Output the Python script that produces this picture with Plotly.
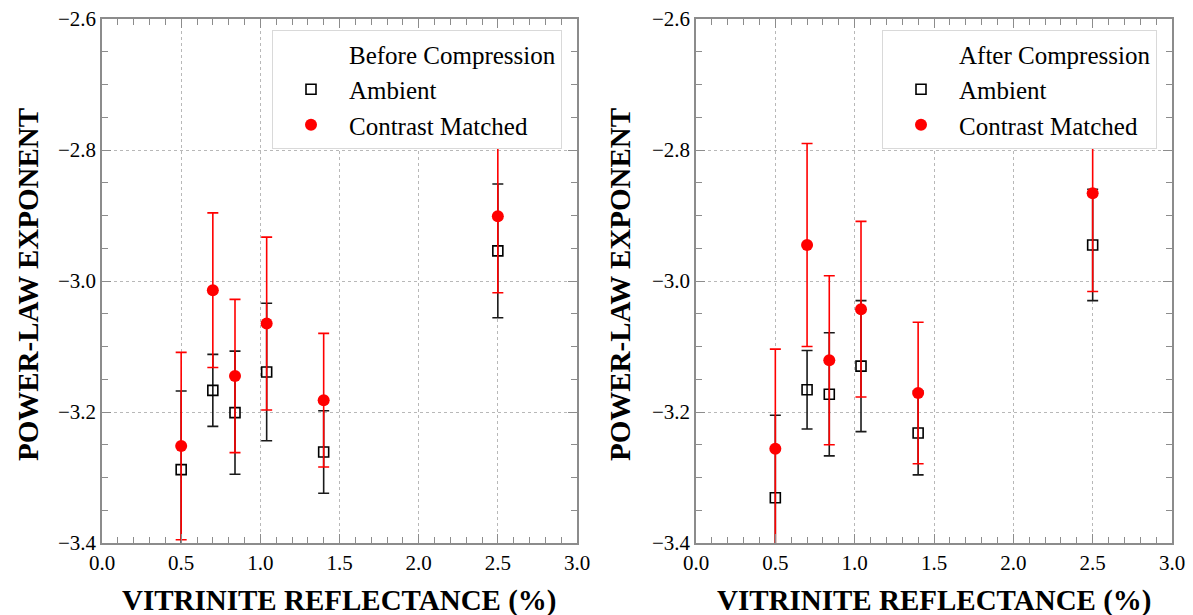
import plotly.graph_objects as go

W, H = 1193, 615

vr = [0.5, 0.7, 0.84, 1.04, 1.4, 2.5]

amb_before = [-3.288, -3.167, -3.201, -3.139, -3.261, -2.954]
amb_before_err = [0.120, 0.055, 0.094, 0.105, 0.063, 0.102]
cm_before = [-3.252, -3.014, -3.145, -3.065, -3.182, -2.901]
cm_before_err = [0.143, 0.118, 0.117, 0.132, 0.102, 0.117]

amb_after = [-3.331, -3.166, -3.173, -3.130, -3.232, -2.945]
amb_after_err = [0.126, 0.060, 0.094, 0.100, 0.064, 0.085]
cm_after = [-3.256, -2.945, -3.121, -3.043, -3.171, -2.866]
cm_after_err = [0.152, 0.155, 0.129, 0.134, 0.108, 0.150]

x_ticks = [0.0, 0.5, 1.0, 1.5, 2.0, 2.5, 3.0]
x_ticklabels = ["0.0", "0.5", "1.0", "1.5", "2.0", "2.5", "3.0"]
y_ticks = [-3.4, -3.2, -3.0, -2.8, -2.6]
y_ticklabels = ["\u22123.4", "\u22123.2", "\u22123.0", "\u22122.8", "\u22122.6"]

FONT = "Liberation Serif, Times New Roman, serif"

fig = go.Figure()

panels = [
    dict(title="Before Compression", amb=amb_before, amb_e=amb_before_err,
         cm=cm_before, cm_e=cm_before_err, xa="x", ya="y", leg="legend"),
    dict(title="After Compression", amb=amb_after, amb_e=amb_after_err,
         cm=cm_after, cm_e=cm_after_err, xa="x2", ya="y2", leg="legend2"),
]

for p in panels:
    fig.add_trace(go.Scatter(
        x=[None], y=[None], mode="markers", name=p["title"],
        marker=dict(size=1, color="rgba(0,0,0,0)"),
        xaxis=p["xa"], yaxis=p["ya"], legend=p["leg"], hoverinfo="skip"))
    fig.add_trace(go.Scatter(
        x=vr, y=p["amb"], mode="markers", name="Ambient",
        marker=dict(symbol="square-open", size=10, color="black",
                    line=dict(width=1.6, color="black")),
        error_y=dict(type="data", array=p["amb_e"], visible=True,
                     color="#1a1a1a", thickness=1.6, width=5.5),
        xaxis=p["xa"], yaxis=p["ya"], legend=p["leg"]))
    fig.add_trace(go.Scatter(
        x=vr, y=p["cm"], mode="markers", name="Contrast Matched",
        marker=dict(symbol="circle", size=12, color="#ff0000"),
        error_y=dict(type="data", array=p["cm_e"], visible=True,
                     color="#ff0000", thickness=1.6, width=5.5),
        xaxis=p["xa"], yaxis=p["ya"], legend=p["leg"]))

ydom = [(615 - 543) / H, (615 - 19) / H]
xdom1 = [102 / W, 577 / W]
xdom2 = [696 / W, 1172 / W]

axis_common = dict(
    showline=True, linecolor="#8c8c8c", linewidth=1.5, mirror="allticks",
    ticks="inside", ticklen=9, tickwidth=1.3, tickcolor="#8c8c8c",
    showgrid=True, gridcolor="#b8b8b8", griddash="dot", gridwidth=1,
    zeroline=False, tickfont=dict(family=FONT, size=21, color="black"),
    automargin=False,
)

xaxis_common = dict(axis_common, range=[0, 3], tickvals=x_ticks, ticktext=x_ticklabels,
                    minor=dict(dtick=0.1, ticks="inside", ticklen=6, tickwidth=1.2,
                               tickcolor="#8c8c8c", showgrid=False))
yaxis_common = dict(axis_common, range=[-3.4, -2.6], tickvals=y_ticks, ticktext=y_ticklabels,
                    minor=dict(dtick=0.05, ticks="inside", ticklen=6, tickwidth=1.2,
                               tickcolor="#8c8c8c", showgrid=False))

legend_common = dict(
    bgcolor="white", bordercolor="#d9d9d9", borderwidth=1,
    font=dict(family=FONT, size=25, color="black"),
    xanchor="left", yanchor="top", tracegroupgap=0, itemwidth=66,
)

fig.update_layout(
    width=W, height=H,
    margin=dict(l=0, r=0, t=0, b=0),
    paper_bgcolor="white", plot_bgcolor="white",
    showlegend=True,
    xaxis=dict(xaxis_common, domain=xdom1, anchor="y"),
    yaxis=dict(yaxis_common, domain=ydom, anchor="x"),
    xaxis2=dict(xaxis_common, domain=xdom2, anchor="y2"),
    yaxis2=dict(yaxis_common, domain=ydom, anchor="x2"),
    legend=dict(legend_common, x=272 / W, y=1 - 30 / H),
    legend2=dict(legend_common, x=882 / W, y=1 - 30 / H),
)

title_font = dict(family=FONT, size=29, color="black", weight="bold")
for cx in [(102 + 577) / 2 / W, (696 + 1172) / 2 / W]:
    fig.add_annotation(text="VITRINITE REFLECTANCE (%)", xref="paper", yref="paper",
                       x=cx, y=1 - 600 / H, xanchor="center", yanchor="middle",
                       showarrow=False, font=title_font)
for cx in [28 / W, 620 / W]:
    fig.add_annotation(text="POWER-LAW EXPONENT", xref="paper", yref="paper",
                       x=cx, y=1 - 285 / H, xanchor="center", yanchor="middle",
                       textangle=-90, showarrow=False, font=title_font)

fig.write_html("out.html")
